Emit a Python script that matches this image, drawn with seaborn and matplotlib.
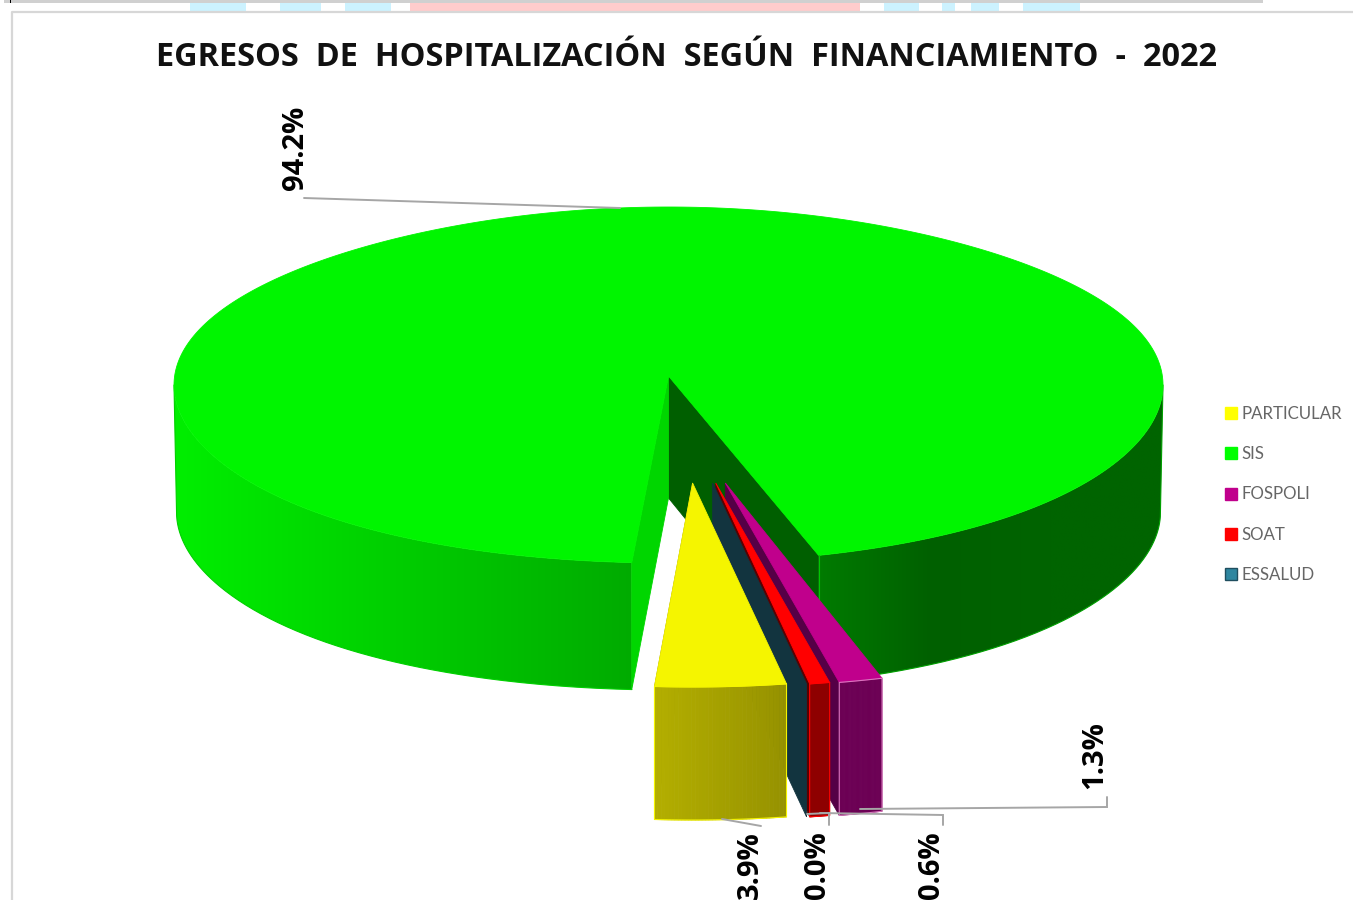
import numpy as np
import matplotlib
matplotlib.use("Agg")
import matplotlib.pyplot as plt
import seaborn as sns
from matplotlib.patches import Polygon, Rectangle

# chart data
categories = ['PARTICULAR', 'SIS', 'FOSPOLI', 'SOAT', 'ESSALUD']
shares = [3.9, 94.2, 1.3, 0.6, 0.0]
share_labels = ['3.9%', '94.2%', '1.3%', '0.6%', '0.0%']
legend_colors = ['#FFFF00', '#00FF00', '#C0008C', '#FF0000', '#2E86A0']

title = 'EGRESOS  DE  HOSPITALIZACIÓN  SEGÚN  FINANCIAMIENTO  -  2022'

# faces of the exploded slices: top, radial wall, front left, front right
slice_faces = {
    'PARTICULAR': ('#F5F500', '#8C8800', '#B3AE00', '#969200'),
    'FOSPOLI': ('#C0008C', '#550046', '#6C0054', '#6C0054'),
    'SOAT': ('#FF0000', '#5A0000', '#8E0000', '#8E0000'),
    'ESSALUD': ('#12343F', '#12343F', '#12343F', '#12343F'),
}

# pie geometry, in image pixels
FIRST_ANGLE = 170.0
CX, CY = 668.5, 385.0
RX, RY = 494.5, 178.0
PERSPECTIVE = 0.055
APEX_Y = 376.0
DEPTH = 127.0
SLICE_RX, SLICE_RY = 541.0, 204.0
SLICE_APEX_Y = 483.0
SLICE_DEPTH = 133.0


def rim(theta, rx=RX, ry=RY, warp=PERSPECTIVE):
    t = np.radians(theta)
    return CX + rx * np.sin(t) * (1 - warp * np.cos(t) ** 3), CY - ry * np.cos(t)


def add_face(ax, pts, color, edge=None, z=2, lw=0.6):
    ax.add_patch(Polygon(pts, closed=True, facecolor=color, edgecolor=edge or color,
                         linewidth=lw, zorder=z))


def add_wall(ax, start, stop, colors, edge, z=2):
    # side wall: a horizontal gradient clipped to the band under the rim
    theta = np.linspace(start, stop, 200)
    x, y = rim(theta)
    bx, by = rim(theta, rx=RX - 2.5)
    by = by + DEPTH
    pts = list(zip(x, y)) + list(zip(bx[::-1], by[::-1]))
    band = Polygon(pts, closed=True, facecolor='none', edgecolor='none', zorder=z)
    ax.add_patch(band)
    # pad the image, its outer pixels fade when resampled
    x0, x1 = min(x.min(), bx.min()) - 8, max(x.max(), bx.max()) + 8
    cmap = sns.blend_palette(colors, as_cmap=True)
    left_to_right = np.tile(np.linspace(0, 1, 256), (4, 1))
    im = ax.imshow(left_to_right, cmap=cmap, extent=(x0, x1, by.max() + 8, y.min() - 8),
                   aspect='auto', zorder=z, interpolation='bilinear')
    im.set_clip_path(band)
    ax.plot(np.r_[x[-1], bx[::-1]], np.r_[y[-1], by[::-1]], color=edge, lw=0.8, zorder=z + 0.1)


def draw_sis(ax, start, stop):
    apex_x = CX
    sx, sy = rim(start)
    ex, ey = rim(stop)

    # far cut face, in shadow
    add_face(ax, [(apex_x, APEX_Y), (ex, ey), (ex, ey + DEPTH), (apex_x, APEX_Y + 122)], '#005F00', z=1)
    add_wall(ax, stop - 360, 90, ['#007D00', '#006000', '#006400', '#006400'], '#00A000', z=2)
    add_wall(ax, start, 270, ['#00F000', '#00AA00'], '#00D000', z=2)
    # near cut face
    add_face(ax, [(apex_x, APEX_Y), (sx, sy), (sx, sy + DEPTH), (apex_x, APEX_Y + 122)], '#00D600', z=3)

    theta = np.linspace(start, stop, 400)
    x, y = rim(theta)
    pts = [(apex_x, APEX_Y)] + list(zip(x, y))
    add_face(ax, pts, '#00F500', z=4)
    ax.plot([ex, ex], [ey, ey + DEPTH], color='#00C800', lw=0.8, zorder=4)


def draw_slice(ax, name, start, stop, z):
    top, wall, front_l, front_r = slice_faces[name]
    mid = np.radians((start + stop) / 2)
    apex_x = CX + 15.5 + 165 * np.sin(mid)

    theta = np.linspace(start, stop, 40)
    t = np.radians(theta)
    x = apex_x + SLICE_RX * np.sin(t)
    y = SLICE_APEX_Y - SLICE_RY * np.cos(t)

    # radial wall on the left hand cut
    add_face(ax, [(apex_x, SLICE_APEX_Y), (x[-1], y[-1]), (x[-1], y[-1] + SLICE_DEPTH),
                  (apex_x, SLICE_APEX_Y + SLICE_DEPTH)], wall, z=z)
    if stop > start:
        colors = sns.blend_palette([front_l, front_r], len(theta) - 1)[::-1]
        for i in range(len(theta) - 1):
            add_face(ax, [(x[i], y[i]), (x[i + 1], y[i + 1]),
                          (x[i + 1], y[i + 1] + SLICE_DEPTH), (x[i], y[i] + SLICE_DEPTH)],
                     colors[i], z=z + 0.1)
        add_face(ax, [(apex_x, SLICE_APEX_Y)] + list(zip(x, y)), top, z=z + 0.2)
        # bright outline round the front face
        outline = sns.light_palette(top, 3)[1] if name == 'FOSPOLI' else top
        ax.plot(np.r_[x, x[-1], x[::-1], x[0]],
                np.r_[y, y[-1] + SLICE_DEPTH, y[::-1] + SLICE_DEPTH, y[0]],
                color=outline, lw=0.8, zorder=z + 0.3)


sns.set_theme(style="white")
plt.rcParams['font.family'] = ['Open Sans', 'DejaVu Sans']

fig = plt.figure(figsize=(13.53, 9), dpi=100)
ax = fig.add_axes([0, 0, 1, 1])
ax.axis('off')

# leftovers of the sheet around the chart
ax.add_patch(Rectangle((4, 0), 1259, 3, color='#D0D0D0', lw=0))
ax.add_patch(Rectangle((10, 0), 1, 3, color='black', lw=0))
for x0, x1 in [(190, 246), (280, 321), (345, 391), (884, 919), (942, 955), (971, 999), (1023, 1080)]:
    ax.add_patch(Rectangle((x0, 3), x1 - x0, 8, color='#CCF2FF', lw=0))
ax.add_patch(Rectangle((410, 3), 450, 8, color='#FFCCCC', lw=0))
ax.plot([12, 12, 1353], [900, 12, 12], color='#D7D7D7', lw=1.6)

# angles run clockwise from the top, first slice starting at FIRST_ANGLE
angles = FIRST_ANGLE + np.r_[0, np.cumsum(shares)] / sum(shares) * 360
span = dict(zip(categories, zip(angles[:-1], angles[1:])))

draw_sis(ax, *span['SIS'])
draw_slice(ax, 'FOSPOLI', *span['FOSPOLI'], z=5)
draw_slice(ax, 'SOAT', *span['SOAT'], z=6)
draw_slice(ax, 'ESSALUD', *span['ESSALUD'], z=7)
draw_slice(ax, 'PARTICULAR', *span['PARTICULAR'], z=8)

# leader lines
leader = dict(color='#A6A6A6', lw=1.4, zorder=9, solid_joinstyle='miter')
ax.plot([304, 620], [198, 208], **leader)
ax.plot([722, 761], [819, 826], **leader)
ax.plot([807, 829, 829], [814, 813, 825], **leader)
ax.plot([820, 943, 943], [813, 815, 825], **leader)
ax.plot([860, 1107, 1107], [809, 807, 797], **leader)

# value labels, rotated like the original
label_pos = {'94.2%': (295, 148), '3.9%': (750, 865), '0.0%': (818, 865),
             '0.6%': (932, 865), '1.3%': (1095, 755)}
for txt in share_labels:
    ax.text(*label_pos[txt], txt, rotation=90, ha='center', va='center',
            fontsize=21, fontweight='bold', color='black', zorder=10)

ax.text(687, 58, title, ha='center', va='center', fontsize=23.4, fontweight='bold', color='#111111')

handles = [Rectangle((0, 0), 1, 1, facecolor=c, edgecolor='#1F4E5F' if n == 'ESSALUD' else c, lw=1)
           for n, c in zip(categories, legend_colors)]
leg = ax.legend(handles, categories, loc='center left', bbox_to_anchor=(1225 / 1353, 1 - 494.5 / 900),
                bbox_transform=ax.transAxes, frameon=False, labelspacing=1.44,
                handlelength=0.72, handleheight=0.72, handletextpad=0.24, borderpad=0, borderaxespad=0,
                labelcolor='#666666', prop={'family': 'Lato', 'size': 12.2})

ax.set_xlim(0, 1353)
ax.set_ylim(900, 0)

fig.savefig('out.png', dpi=100)
